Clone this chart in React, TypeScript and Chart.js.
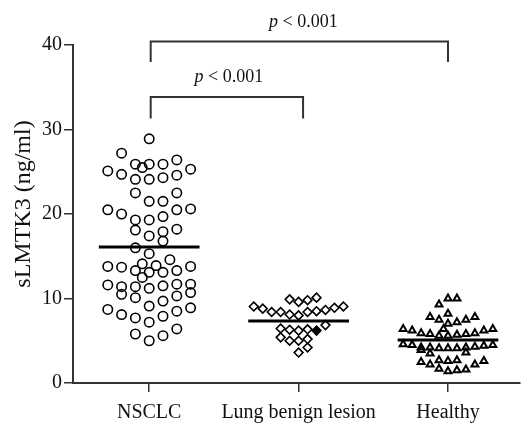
import React, { useEffect, useRef } from "react";
import { Chart, registerables } from "chart.js";

Chart.register(...registerables);

const CATEGORIES = ["NSCLC", "Lung benign lesion", "Healthy"];
const Y_TICKS = [0, 10, 20, 30, 40];
const Y_TITLE = "sLMTK3 (ng/ml)";

const NSCLC_VALUES = [
  28.9, 27.2, 25.9, 25.5, 25.9, 25.9, 26.4, 25.3, 25.1, 24.7, 24.1, 24.1, 24.3, 24.6,
  22.5, 21.5, 21.5, 22.5, 20.5, 20.0, 19.3, 19.3, 19.7, 20.5, 20.6, 18.1, 17.4, 17.9,
  18.2, 16.8, 16.0, 15.3, 14.6, 14.1, 13.9, 13.8, 13.7, 13.3, 13.1, 13.1, 13.3, 13.8,
  12.5, 11.6, 11.4, 11.4, 11.2, 11.5, 11.7, 11.7, 10.5, 10.1, 9.7, 10.3, 10.7, 9.1,
  8.7, 8.1, 7.7, 7.2, 7.9, 8.5, 8.9, 5.8, 5.0, 5.6, 6.4,
];
const NSCLC_SLOTS = [
  0, -4, -2, -1, 0, 2, 4, 6, -6, -4, -2, 0, 2, 4,
  -2, 0, 2, 4, -6, -4, -2, 0, 2, 4, 6, -2, 0, 2,
  4, 2, -2, 0, 3, -1, 1, -6, -4, -2, 0, 2, 4, 6,
  -1, -6, -4, -2, 0, 2, 4, 6, -4, -2, 2, 4, 6, 0,
  -6, -4, -2, 0, 2, 4, 6, -2, 0, 2, 4,
];

const BENIGN_VALUES = [
  9.9, 9.6, 9.8, 10.1, 9.05, 8.8, 8.4, 8.4, 8.1, 8.0, 8.4, 8.5, 8.65, 8.9, 9.05,
  6.45, 6.3, 6.2, 6.35, 6.2, 6.85, 5.4, 5.0, 5.0, 5.2, 4.2, 3.6,
];
const BENIGN_SLOTS = [
  -1, 0, 1, 2, -5, -4, -3, -2, -1, 0, 1, 2, 3, 4, 5,
  -2, -1, 0, 1, 2, 3, -2, -1, 0, 1, 1, 0,
];

const HEALTHY_VALUES = [
  9.3, 10.0, 10.0, 8.2, 7.8, 7.5, 7.0, 7.2, 7.5, 7.8, 6.4,
  6.4, 6.2, 5.9, 5.8, 5.6, 5.6, 5.7, 5.8, 5.9, 6.2, 6.4,
  4.6, 4.5, 4.2, 4.2, 4.1, 4.1, 4.1, 4.2, 4.3, 4.4, 4.5,
  3.9, 3.5, 3.6, 2.5, 2.2, 2.7, 2.6, 2.7, 2.2, 2.6, 1.7, 1.4, 1.5, 1.6,
];
const HEALTHY_SLOTS = [
  -1, 0, 1, 0, -2, -1, 0, 1, 2, 3, -0.5,
  -5, -4, -3, -2, -1, 0, 1, 2, 3, 4, 5,
  -5, -4, -3, -2, -1, 0, 1, 2, 3, 4, 5,
  -3, -2, 2, -3, -2, -1, 0, 1, 3, 4, -1, 0, 1, 2,
];

const MEANS = [16.1, 7.35, 5.1];
const P_LABELS = ["p < 0.001", "p < 0.001"];

const SERIF = '"Liberation Serif", "Times New Roman", serif';
const INK = "#111";

function toPoints(center: number, slots: number[], values: number[], slotWidth: number) {
  return values.map((v, i) => ({ x: center + slots[i] * slotWidth, y: v }));
}

const bracketPlugin = {
  id: "brackets",
  afterDraw(chart: any) {
    const { ctx, scales } = chart;
    const xs = scales.x;
    const ys = scales.y;
    ctx.save();
    ctx.strokeStyle = "#333";
    ctx.lineWidth = 2;
    const brackets = [
      { from: 1, to: 3, top: 40.4, bottom: 38.0, label: P_LABELS[0], dx: 4, ly: 27 },
      { from: 1, to: 2.03, top: 33.85, bottom: 31.3, label: P_LABELS[1], dx: 2, ly: 82 },
    ];
    brackets.forEach((b) => {
      const x1 = xs.getPixelForValue(b.from) + 1.5;
      const x2 = xs.getPixelForValue(b.to);
      const yt = ys.getPixelForValue(b.top);
      const yb = ys.getPixelForValue(b.bottom);
      ctx.beginPath();
      ctx.moveTo(x1, yb);
      ctx.lineTo(x1, yt);
      ctx.lineTo(x2, yt);
      ctx.lineTo(x2, yb);
      ctx.stroke();
      const italic = "italic 18px " + SERIF;
      const regular = "18px " + SERIF;
      const first = b.label.slice(0, 1);
      const rest = b.label.slice(1);
      ctx.font = italic;
      const w1 = ctx.measureText(first).width;
      ctx.font = regular;
      const w2 = ctx.measureText(rest).width;
      const cx = (x1 + x2) / 2 + b.dx;
      const start = cx - (w1 + w2) / 2;
      ctx.fillStyle = INK;
      ctx.textBaseline = "alphabetic";
      ctx.textAlign = "left";
      ctx.font = italic;
      ctx.fillText(first, start, b.ly);
      ctx.font = regular;
      ctx.fillText(rest, start + w1, b.ly);
    });
    ctx.translate(24, 204);
    ctx.rotate(-Math.PI / 2);
    ctx.font = "24px " + SERIF;
    ctx.textAlign = "center";
    ctx.textBaseline = "middle";
    ctx.fillStyle = INK;
    ctx.fillText(Y_TITLE, 0, 0);
    ctx.restore();
  },
};

export default function App() {
  const ref = useRef<HTMLCanvasElement | null>(null);

  useEffect(() => {
    if (!ref.current) return;
    const narrow = 0.0462;
    const wide = 0.06;
    const half = 0.337;
    const meanLine = (i: number) => ({
      type: "line" as const,
      data: [
        { x: i + 1 - half, y: MEANS[i] },
        { x: i + 1 + half, y: MEANS[i] },
      ],
      borderColor: "#000",
      borderWidth: 3,
      pointRadius: 0,
      showLine: true,
      order: -1,
    });
    const chart = new Chart(ref.current, {
      type: "scatter",
      data: {
        datasets: [
          meanLine(0) as any,
          meanLine(1) as any,
          meanLine(2) as any,
          {
            data: toPoints(1, NSCLC_SLOTS, NSCLC_VALUES, narrow),
            pointStyle: "circle",
            pointRadius: 4.7,
            pointBorderWidth: 1.6,
            pointBorderColor: "#000",
            pointBackgroundColor: "rgba(255,255,255,0)",
          },
          {
            data: toPoints(2, BENIGN_SLOTS, BENIGN_VALUES, wide),
            pointStyle: "rectRot",
            pointRadius: 4.4,
            pointBorderWidth: 1.6,
            pointBorderColor: "#000",
            pointBackgroundColor: (c: any) => (c.dataIndex === 19 ? "#000" : "rgba(255,255,255,0)"),
          },
          {
            data: toPoints(3, HEALTHY_SLOTS, HEALTHY_VALUES, wide),
            pointStyle: "triangle",
            pointRadius: 4,
            pointBorderWidth: 2,
            pointBorderColor: "#000",
            pointBackgroundColor: "rgba(255,255,255,0)",
          },
        ],
      },
      options: {
        responsive: false,
        animation: false,
        events: [],
        layout: { padding: { top: 45, right: 0, left: 0, bottom: 0 } },
        plugins: { legend: { display: false }, tooltip: { enabled: false } },
        scales: {
          x: {
            type: "linear",
            min: 0.49,
            max: 3.48,
            afterFit: (s: any) => {
              s.height = 40;
            },
            afterBuildTicks: (s: any) => {
              s.ticks = CATEGORIES.map((_, i) => ({ value: i + 1 }));
            },
            ticks: {
              callback: (v: any) => CATEGORIES[Math.round(Number(v)) - 1] ?? "",
              font: { family: SERIF, size: 20 },
              color: INK,
              padding: 9,
              maxRotation: 0,
              autoSkip: false,
            },
            grid: { display: true, drawOnChartArea: false, drawTicks: true, tickLength: 9, color: "#333", lineWidth: 1.5 },
            border: { display: true, color: "#333", width: 2 },
          },
          y: {
            type: "linear",
            min: 0,
            max: 40,
            afterFit: (s: any) => {
              s.width = 73;
            },
            afterBuildTicks: (s: any) => {
              s.ticks = Y_TICKS.map((v) => ({ value: v }));
            },
            ticks: {
              font: { family: SERIF, size: 20 },
              color: INK,
              padding: 2,
            },
            grid: { display: true, drawOnChartArea: false, drawTicks: true, tickLength: 9, color: "#333", lineWidth: 1.5 },
            border: { display: true, color: "#333", width: 2 },
          },
        },
      },
      plugins: [bracketPlugin],
    });
    return () => chart.destroy();
  }, []);

  return (
    <div style={{ position: "absolute", left: 0, top: 0, width: 526, height: 423, background: "#fff" }}>
      <canvas ref={ref} width={526} height={423} />
    </div>
  );
}
